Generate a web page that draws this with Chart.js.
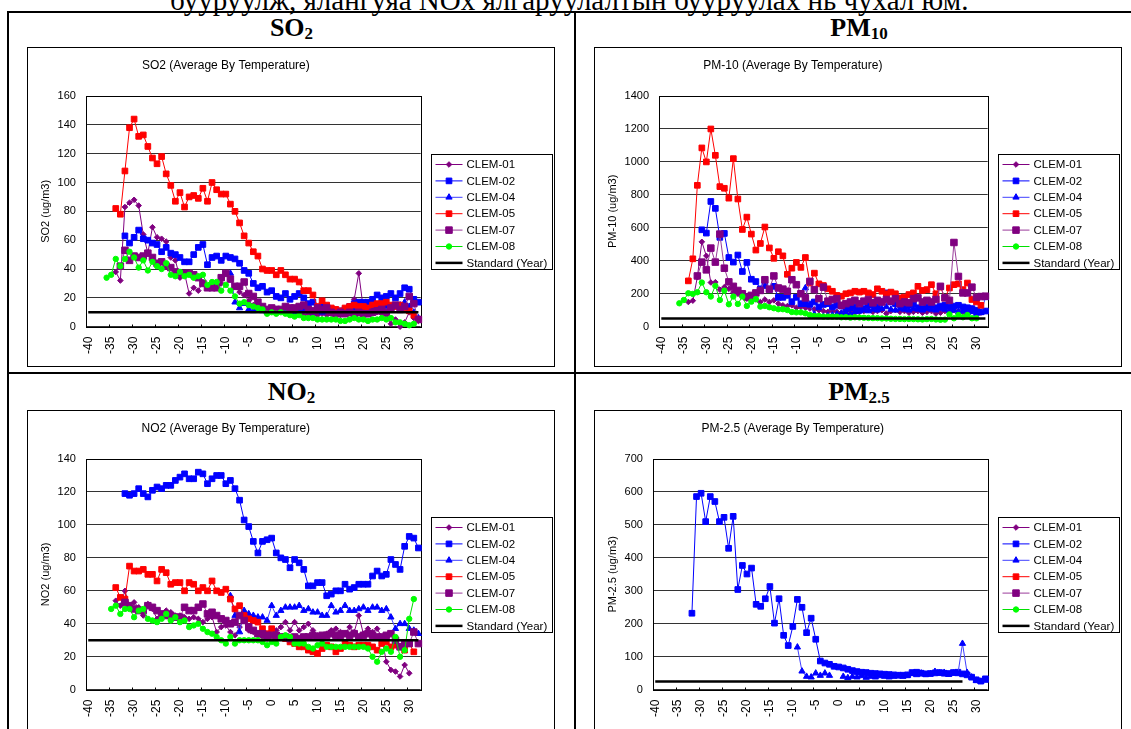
<!DOCTYPE html>
<html>
<head>
<meta charset="utf-8">
<title>Average By Temperature</title>
<script src="https://cdn.jsdelivr.net/npm/chart.js@4.4.1/dist/chart.umd.min.js"></script>
<style>
  html, body { margin: 0; padding: 0; background: #fff; }
  body { width: 1131px; height: 729px; overflow: hidden; position: relative; }
  .linea { position: absolute; background: #000; }
  .texto-sup { position: absolute; left: 170px; top: -14px; font: 29px/29px 'Liberation Serif', 'Times New Roman', serif; white-space: nowrap; color: #000; }
  .titulo { position: absolute; text-align: center; font: bold 26px/26px 'Liberation Serif', 'Times New Roman', serif; color: #000; white-space: nowrap; }
  .titulo span { font-size: 17px; line-height: 0; vertical-align: -3px; }
  .marco { position: absolute; width: 528px; height: 320px; border: 1px solid #000; box-sizing: border-box; background: #fff; }
  .marco canvas { position: absolute; left: 0; top: 0; }
</style>
</head>
<body>
<div class="texto-sup">бууруулж, ялангуяа NOx ялгаруулалтын бууруулах нь чухал юм.</div>
<div class="linea" style="left:7px;top:11px;width:1200px;height:2px"></div>
<div class="linea" style="left:7px;top:11px;width:2px;height:800px"></div>
<div class="linea" style="left:574px;top:11px;width:2px;height:800px"></div>
<div class="linea" style="left:7px;top:372px;width:1200px;height:2px"></div>

<div class="titulo" style="left:9px;top:15px;width:565px">SO<span>2</span></div>
<div class="titulo" style="left:576px;top:15px;width:566px">PM<span>10</span></div>
<div class="titulo" style="left:9px;top:379px;width:565px">NO<span>2</span></div>
<div class="titulo" style="left:576px;top:379px;width:566px">PM<span>2.5</span></div>

<div class="marco" style="left:27px;top:47px"><canvas id="chart-so2" width="526" height="318"></canvas></div>
<div class="marco" style="left:594px;top:47px"><canvas id="chart-pm10" width="526" height="318"></canvas></div>
<div class="marco" style="left:27px;top:410px"><canvas id="chart-no2" width="526" height="318"></canvas></div>
<div class="marco" style="left:594px;top:410px"><canvas id="chart-pm25" width="526" height="318"></canvas></div>

<script>
// categorías de temperatura (eje x)
const temps = [-40, -39, -38, -37, -36, -35, -34, -33, -32, -31, -30, -29, -28, -27, -26, -25,
  -24, -23, -22, -21, -20, -19, -18, -17, -16, -15, -14, -13, -12, -11, -10, -9, -8, -7, -6, -5,
  -4, -3, -2, -1, 0, 1, 2, 3, 4, 5, 6, 7, 8, 9, 10, 11, 12, 13, 14, 15, 16, 17, 18, 19, 20, 21,
  22, 23, 24, 25, 26, 27, 28, 29, 30, 31, 32];
const stations = ['CLEM-01', 'CLEM-02', 'CLEM-04', 'CLEM-05', 'CLEM-07', 'CLEM-08'];
const standardLabel = 'Standard (Year)';

// SO2 — temperatura inicial de cada estación y sus valores
const so2Inicio = [-34, -32, -9, -34, -33, -36];
const so2C01 = [38, 32, 83, 86, 88, 84, 64, 51, 69, 62, 61, 59, 48, 46, 34, 37, 23, 27, 25, 31,
  27, 27, 27, 30, 37, 33, 28, 24, 22, 18, 15, 13, 12, 12, 13, 12, 11, 10, 9, 8, 9, 8, 9, 8, 8, 9,
  8, 9, 8, 8, 9, 10, 19, 37, 12, 10, 11, 10, 9, 8, 2, 5, 0, 3, 10, 6, 4];
const so2C02 = [63, 58, 62, 67, 61, 60, 58, 57, 52, 55, 51, 50, 48, 45, 45, 50, 55, 57, 43, 48,
  49, 46, 49, 48, 47, 44, 39, 37, 30, 27, 28, 24, 25, 21, 20, 23, 19, 21, 23, 20, 16, 17, 13, 15,
  12, 12, 11, 11, 12, 14, 16, 17, 17, 17, 19, 22, 20, 21, 23, 20, 23, 27, 26, 19, 17];
const so2C04 = [37, 17, 13, 16, 12, 11, 12, 11, 10, 11, 10, 11, 10, 11, 10, 11, 12, 11, 10, 11,
  10, 11, 10, 10, 9, 10, 11, 12, 12, 13, 12, 13, 14, 13, 14, 13, 14, 15, 17, 14, 10, 6];
const so2C05 = [82, 78, 108, 138, 144, 132, 133, 125, 117, 113, 118, 106, 98, 87, 93, 83, 90, 91,
  89, 96, 87, 100, 95, 92, 92, 85, 80, 72, 63, 58, 52, 49, 40, 39, 39, 36, 39, 36, 33, 33, 31, 25,
  25, 22, 14, 18, 15, 13, 12, 11, 13, 14, 15, 14, 14, 13, 15, 16, 16, 17, 15, 14, 15, 13, 11, 8, 5];
const so2C07 = [42, 53, 46, 49, 48, 49, 51, 48, 44, 45, 42, 41, 38, 37, 37, 37, 36, 34, 30, 27,
  27, 27, 34, 37, 33, 28, 28, 31, 23, 21, 17, 14, 12, 13, 12, 12, 14, 13, 13, 14, 15, 12, 11, 13,
  12, 13, 10, 9, 10, 9, 10, 9, 10, 9, 9, 10, 11, 12, 10, 13, 15, 12, 14, 21, 16, 5];
const so2C08 = [34, 36, 47, 42, 47, 52, 48, 41, 46, 39, 45, 42, 40, 44, 36, 35, 38, 35, 36, 34,
  35, 36, 29, 31, 31, 25, 29, 25, 21, 16, 17, 15, 14, 13, 12, 9, 10, 9, 10, 9, 8, 7, 8, 6, 6, 6,
  5, 5, 5, 5, 5, 4, 4, 5, 6, 5, 5, 4, 5, 5, 6, 5, 6, 3, 3, 2, 1, 2];

// PM-10
const pm10Inicio = [-34, -31, -8, -34, -32, -36];
const pm10C01 = [150, 158, 300, 515, 430, 268, 270, 225, 240, 230, 210, 200, 195, 170, 175, 165,
  150, 165, 150, 160, 140, 130, 125, 130, 115, 120, 115, 110, 105, 100, 95, 90, 95, 90, 85, 90,
  95, 85, 90, 95, 100, 90, 95, 100, 80, 95, 100, 90, 95, 85, 90, 95, 85, 90, 95, 80, 85, 95, 90,
  100, 95, 90, 100, 95, 90, 85, 95];
const pm10C02 = [588, 568, 760, 718, 542, 566, 420, 392, 435, 335, 390, 288, 274, 230, 250, 227,
  245, 178, 178, 190, 152, 178, 140, 140, 138, 150, 120, 135, 140, 120, 130, 125, 110, 115, 120,
  100, 110, 130, 135, 120, 150, 205, 150, 140, 135, 120, 130, 140, 115, 110, 120, 130, 115, 125,
  130, 120, 125, 130, 120, 115, 110, 100, 90, 95];
const pm10C04 = [235, 130, 75, 60, 62, 65, 70, 75, 80, 85, 75, 90, 95, 100, 95, 105, 100, 110,
  120, 105, 100, 110, 105, 100, 110, 105, 100, 110, 105, 100, 110, 105, 95, 100, 90, 95, 85, 90,
  80, 85, 175];
const pm10C05 = [278, 412, 858, 1085, 1000, 1200, 1040, 850, 840, 780, 1020, 775, 590, 665, 562,
  465, 505, 605, 478, 415, 455, 430, 318, 355, 390, 360, 420, 265, 325, 260, 250, 230, 215, 190,
  185, 200, 205, 215, 210, 215, 205, 195, 230, 215, 200, 210, 200, 175, 180, 195, 205, 245, 220,
  225, 255, 200, 240, 175, 235, 255, 260, 225, 265, 165, 150, 130];
const pm10C07 = [308, 392, 345, 477, 392, 562, 355, 272, 245, 220, 200, 180, 190, 205, 220, 285,
  228, 308, 235, 228, 215, 285, 255, 200, 175, 275, 225, 170, 240, 155, 165, 170, 130, 140, 150,
  160, 140, 155, 165, 145, 160, 150, 165, 155, 170, 140, 150, 145, 170, 175, 150, 160, 150, 165,
  245, 175, 160, 511, 305, 205, 205, 240, 178, 183, 185];
const pm10C08 = [142, 162, 203, 199, 209, 268, 209, 183, 248, 162, 219, 136, 183, 138, 183, 126,
  152, 168, 122, 126, 118, 112, 106, 106, 101, 89, 87, 87, 81, 71, 65, 65, 61, 61, 61, 61, 57, 58,
  55, 57, 56, 54, 53, 52, 52, 50, 50, 48, 47, 47, 46, 47, 46, 45, 44, 46, 47, 44, 42, 43, 75, 51,
  71, 57, 71, 51, 51];

// NO2
const no2Inicio = [-34, -32, -9, -34, -32, -35];
const no2C01 = [54, 51, 60, 51, 53, 50, 45, 52, 49, 43, 46, 48, 47, 45, 45, 44, 43, 44, 43, 41,
  43, 44, 35, 38, 39, 35, 33, 38, 43, 36, 35, 33, 32, 31, 33, 36, 38, 41, 36, 41, 36, 38, 40, 36,
  33, 31, 34, 36, 37, 35, 34, 38, 35, 45, 34, 37, 35, 37, 32, 17, 12, 11, 8, 15, 10];
const no2C02 = [119, 118, 119, 122, 119, 117, 121, 123, 122, 124, 124, 127, 129, 131, 128, 128,
  132, 131, 125, 128, 130, 130, 125, 127, 122, 115, 103, 99, 90, 83, 90, 91, 92, 83, 80, 79, 74,
  79, 77, 73, 63, 63, 65, 65, 57, 58, 60, 60, 64, 61, 62, 64, 64, 64, 69, 72, 69, 70, 79, 76, 73,
  87, 93, 92, 86];
const no2C04 = [57, 45, 35, 48, 46, 45, 44, 44, 42, 51, 45, 48, 50, 50, 50, 51, 48, 49, 47, 47,
  45, 45, 51, 47, 48, 51, 48, 48, 49, 50, 48, 50, 50, 48, 49, 44, 37, 40, 40, 37, 36, 34];
const no2C05 = [62, 56, 55, 75, 72, 72, 73, 70, 70, 66, 73, 71, 64, 65, 65, 60, 65, 64, 60, 62,
  60, 66, 60, 59, 61, 55, 49, 51, 45, 43, 42, 41, 37, 34, 37, 33, 32, 31, 29, 28, 26, 26, 24, 23,
  22, 25, 27, 26, 23, 25, 28, 27, 26, 27, 27, 27, 26, 24, 28, 29, 26, 27, 26, 24, 28, 23];
const no2C07 = [53, 51, 49, 48, 48, 51, 50, 48, 46, 45, 45, 44, 44, 50, 48, 48, 50, 52, 46, 47,
  45, 43, 42, 40, 41, 45, 42, 38, 36, 34, 34, 33, 33, 33, 32, 32, 31, 32, 31, 32, 32, 33, 32, 33,
  33, 34, 33, 33, 34, 33, 34, 32, 33, 34, 33, 32, 32, 33, 34, 30, 26, 28, 28, 35, 28];
const no2C08 = [49, 51, 46, 49, 49, 44, 48, 49, 43, 42, 41, 43, 46, 42, 44, 41, 42, 38, 39, 40,
  37, 35, 34, 32, 30, 28, 32, 28, 30, 30, 30, 30, 30, 29, 27, 29, 28, 32, 33, 32, 28, 28, 28, 26,
  25, 27, 28, 26, 26, 26, 26, 26, 26, 26, 26, 26, 25, 20, 17, 23, 25, 23, 32, 20, 24, 43, 55];

// PM-2.5 (solo CLEM-02 y CLEM-04 tienen datos)
const pm25Inicio = [-32, -32, -9, -32, -32, -32];
const pm25C02 = [232, 586, 596, 510, 586, 571, 510, 523, 429, 526, 304, 377, 351, 369, 259, 253,
  276, 313, 202, 276, 165, 134, 192, 274, 250, 173, 217, 153, 87, 81, 77, 71, 69, 66, 62, 58, 55,
  53, 52, 50, 49, 48, 47, 46, 45, 44, 44, 45, 52, 53, 50, 48, 49, 51, 52, 50, 49, 52, 53, 48, 45,
  38, 30, 26, 33];
const pm25C04 = [129, 56, 40, 38, 50, 43, 50, 43, null, null, 40, 36, 40, 38, 42, 37, 40, 38, 42,
  40, 38, 40, 42, 40, 43, 48, 45, 50, 46, 48, 55, 50, 52, 46, 50, 48, 140, 52, 38, 28, 25, 28];

// norma anual: valor y última temperatura dibujada (SO2, PM10, NO2, PM2.5)
const standardValor = [10, 50, 30, 25];
const standardFin = [32, 32, 32, 27];

const estilos = [
  { color: '#800080', linea: '#800080', punto: 'rectRot', radio: 2.8 },
  { color: '#0000FF', linea: '#0000FF', punto: 'rect', radio: 4 },
  { color: '#0000FF', linea: '#4040FF', punto: 'triangle', radio: 3.6 },
  { color: '#FF0000', linea: '#FF0000', punto: 'rect', radio: 4 },
  { color: '#800080', linea: '#9A3C9A', punto: 'rect', radio: 4.6 },
  { color: '#00FF00', linea: '#00E000', punto: 'circle', radio: 2.7 }
];

Chart.defaults.font.family = "'Liberation Sans', Arial, sans-serif";
Chart.defaults.color = '#000';

function alinear(inicio, valores) {
  const out = temps.map(() => null);
  const i0 = temps.indexOf(inicio);
  valores.forEach((v, i) => { out[i0 + i] = v; });
  return out;
}

// borde del área de trazado + marcas del eje x cada 5 categorías
const marcoPlot = {
  id: 'marcoPlot',
  beforeDatasetsDraw(chart) {
    const { ctx, chartArea: a, scales: { x } } = chart;
    ctx.save();
    ctx.strokeStyle = '#000';
    ctx.lineWidth = 1;
    const l = Math.round(a.left) + 0.5, t = Math.round(a.top) + 0.5;
    const r = Math.round(a.right) + 0.5, b = Math.round(a.bottom) + 0.5;
    ctx.strokeRect(l, t, r - l, b - t);
    for (let i = 5; i < temps.length; i += 5) {
      const px = Math.round((x.getPixelForTick(i - 1) + x.getPixelForTick(i)) / 2) + 0.5;
      ctx.beginPath();
      ctx.moveTo(px, b);
      ctx.lineTo(px, b - 3);
      ctx.stroke();
    }
    ctx.restore();
  }
};

// leyenda con recuadro, estilo Excel (línea + marcador)
const leyendaCaja = {
  id: 'leyendaCaja',
  afterDraw(chart) {
    const { ctx, chartArea: a } = chart;
    const w = 121, h = 115, fila = 16.4;
    const left = Math.round(a.right + 10) + 0.5;
    const top = Math.round((a.top + a.bottom) / 2 - h / 2) + 0.5;
    ctx.save();
    ctx.fillStyle = '#fff';
    ctx.fillRect(left, top, w, h);
    ctx.strokeStyle = '#000';
    ctx.lineWidth = 1;
    ctx.strokeRect(left, top, w, h);
    ctx.font = "11.5px 'Liberation Sans', Arial, sans-serif";
    ctx.textBaseline = 'middle';
    chart.data.datasets.forEach((ds, i) => {
      const y = top + 10 + i * fila;
      ctx.strokeStyle = ds.borderColor;
      ctx.lineWidth = ds.borderWidth;
      ctx.beginPath();
      ctx.moveTo(left + 4, y);
      ctx.lineTo(left + 31, y);
      ctx.stroke();
      if (ds.pointRadius > 0) {
        ctx.fillStyle = ds.pointBackgroundColor;
        ctx.strokeStyle = ds.pointBorderColor;
        ctx.lineWidth = 1;
        Chart.helpers.drawPoint(ctx, { pointStyle: ds.pointStyle, radius: ds.pointRadius, rotation: 0, borderWidth: 1 }, left + 17.5, y);
      }
      ctx.fillStyle = '#000';
      ctx.fillText(ds.label, left + 35, y + 0.5);
    });
    ctx.restore();
  }
};

function crearGrafico(id, cfg) {
  const datasets = stations.map((nombre, k) => {
    const e = estilos[k];
    return {
      label: nombre,
      data: alinear(cfg.inicios[k], cfg.series[k]),
      borderColor: e.linea,
      borderWidth: 1,
      pointBackgroundColor: e.color,
      pointBorderColor: e.color,
      pointBorderWidth: 1,
      pointStyle: e.punto,
      pointRadius: e.radio,
      order: 10 - k,
      clip: false
    };
  });
  datasets.push({
    label: standardLabel,
    data: temps.map(t => (t <= cfg.stdFin ? cfg.std : null)),
    borderColor: '#000',
    borderWidth: 2.5,
    pointRadius: 0,
    order: 0
  });

  return new Chart(document.getElementById(id), {
    type: 'line',
    data: { labels: temps.map(String), datasets },
    options: {
      responsive: false,
      animation: false,
      devicePixelRatio: 1,
      spanGaps: false,
      layout: { padding: { left: 3, right: 133.3, top: 0, bottom: 0 } },
      plugins: {
        legend: { display: false },
        tooltip: { enabled: false },
        title: {
          display: true, text: cfg.titulo, color: '#000',
          font: { size: 12, weight: 'normal' },
          padding: { top: 10.3, bottom: 23.3 }
        }
      },
      scales: {
        x: {
          type: 'category',
          offset: true,
          grid: { display: false, drawTicks: false },
          border: { display: false },
          ticks: {
            autoSkip: false, minRotation: 90, maxRotation: 90, padding: 10,
            color: '#000', font: { size: 12 },
            callback: (v, i) => (temps[i] % 5 === 0 ? String(temps[i]) : '')
          },
          afterFit: s => { s.height = 39.3; }
        },
        y: {
          min: 0, max: cfg.max,
          grid: { color: '#333', lineWidth: 1, drawTicks: false },
          border: { display: false },
          ticks: {
            stepSize: cfg.paso, padding: 10, color: '#000', font: { size: 11 },
            callback: v => String(v)
          },
          title: {
            display: true, text: cfg.ejeY, color: '#000',
            font: { size: 11 }, padding: { top: 7.9, bottom: 5.5 }
          },
          afterFit: s => { s.width -= 10; }
        }
      }
    },
    plugins: [marcoPlot, leyendaCaja]
  });
}

crearGrafico('chart-so2', {
  titulo: 'SO2 (Average By Temperature)', ejeY: 'SO2 (ug/m3)', max: 160, paso: 20,
  inicios: so2Inicio, series: [so2C01, so2C02, so2C04, so2C05, so2C07, so2C08],
  std: standardValor[0], stdFin: standardFin[0]
});
crearGrafico('chart-pm10', {
  titulo: 'PM-10 (Average By Temperature)', ejeY: 'PM-10 (ug/m3)', max: 1400, paso: 200,
  inicios: pm10Inicio, series: [pm10C01, pm10C02, pm10C04, pm10C05, pm10C07, pm10C08],
  std: standardValor[1], stdFin: standardFin[1]
});
crearGrafico('chart-no2', {
  titulo: 'NO2 (Average By Temperature)', ejeY: 'NO2 (ug/m3)', max: 140, paso: 20,
  inicios: no2Inicio, series: [no2C01, no2C02, no2C04, no2C05, no2C07, no2C08],
  std: standardValor[2], stdFin: standardFin[2]
});
crearGrafico('chart-pm25', {
  titulo: 'PM-2.5 (Average By Temperature)', ejeY: 'PM-2.5 (ug/m3)', max: 700, paso: 100,
  inicios: pm25Inicio, series: [[], pm25C02, pm25C04, [], [], []],
  std: standardValor[3], stdFin: standardFin[3]
});
</script>
</body>
</html>
